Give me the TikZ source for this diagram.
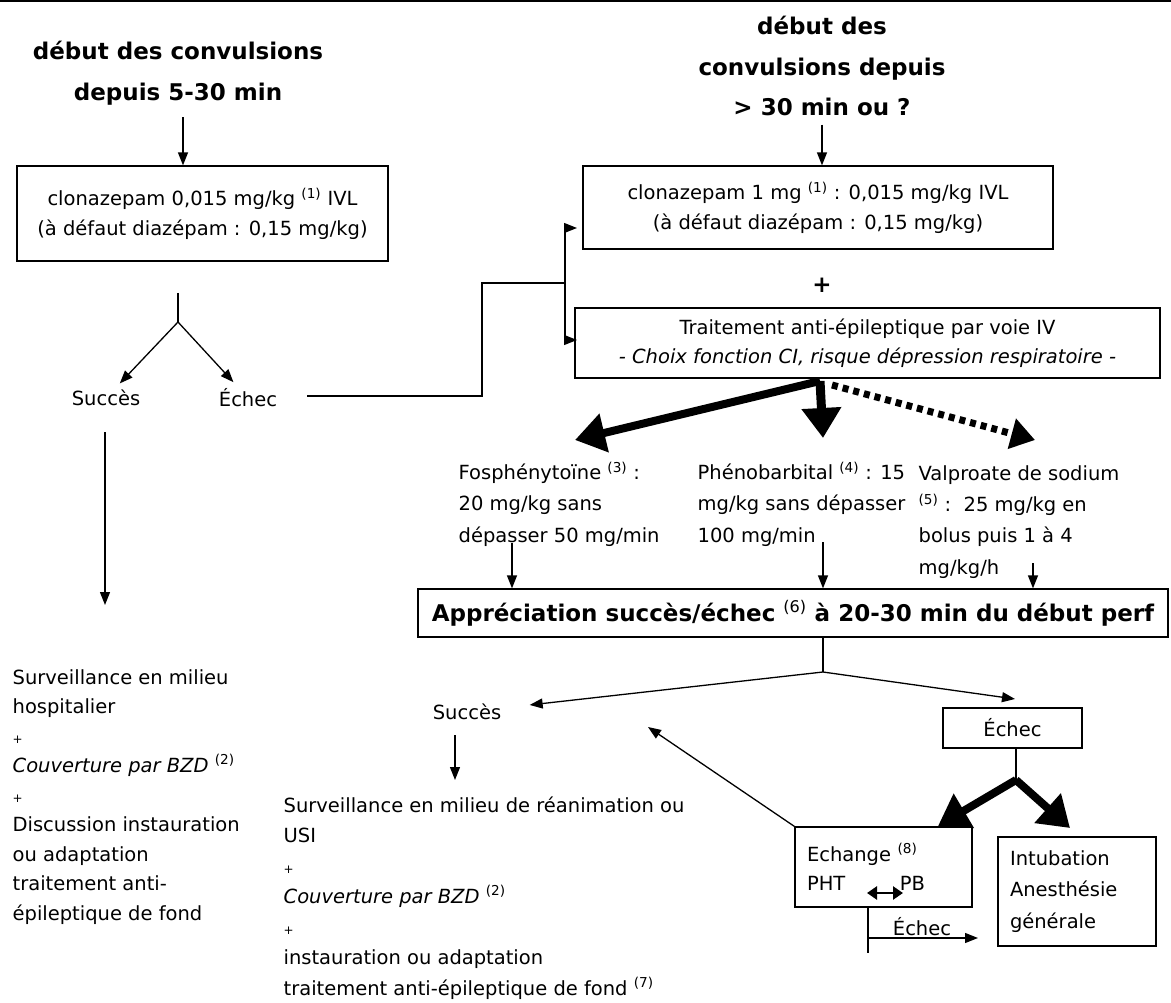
\documentclass[tikz,border=0pt]{standalone}
\usepackage{fontspec}
\setmainfont{DejaVu Sans}
\usetikzlibrary{arrows.meta}

\newcommand\bodyfont{\fontsize{19.5}{29.5}\selectfont}
\newcommand\widefont{\fontsize{19.5}{30.5}\selectfont}
\newcommand\drugfont{\fontsize{19.5}{31.2}\selectfont}
\newcommand\headfont{\fontsize{23}{40.5}\selectfont\bfseries}
\newcommand\plusfont{\fontsize{12}{29.5}\selectfont}

\begin{document}
\begin{tikzpicture}[x=1pt,y=-1pt,>={Triangle[length=13pt,width=10pt]},line width=1.3pt,
  box node/.style={draw,line width=1.2pt,inner sep=0pt,align=center,font=\bodyfont},
  txt node/.style={inner sep=0pt,align=left,anchor=base west,font=\bodyfont},
  lbl node/.style={inner sep=6pt,font=\bodyfont},
  title node/.style={align=center,inner sep=0pt,font=\headfont},
  fat arrow/.style={line width=8pt,-{Triangle[length=30pt,width=38pt]}}]
  \useasboundingbox (0,0) rectangle (1171,1003);
  \draw[line width=1.5pt] (0,1) -- (1171,1);

  % left branch: 5-30 min
  \node[title node] (t1) at (178,73) {début des convulsions\\depuis 5-30 min};
  \node[box node, minimum width=371pt, minimum height=95pt] (b1) at (202.5,213.5)
    {clonazepam 0,015 mg/kg \textsuperscript{(1)} IVL\\(à défaut diazépam : 0,15 mg/kg)};
  \node[lbl node] (s1) at (106,398) {Succès};
  \node[lbl node] (e1) at (248,398) {Échec};
  \coordinate (f0) at (178,293);
  \coordinate (f1) at (178,322);
  \coordinate (l0) at (105,432);
  \coordinate (l1) at (105,605);
  % base = last line
  \node[txt node] (r1) at (12,920) {Surveillance en milieu\\hospitalier\\{\plusfont +}\\%
    \textit{Couverture par BZD} \textsuperscript{(2)}\\{\plusfont +}\\Discussion instauration\\%
    ou adaptation\\traitement anti-\\épileptique de fond};

  % right branch: > 30 min
  \node[title node] (t2) at (822,66) {début des\\convulsions depuis\\> 30 min ou ?};
  \node[box node, minimum width=470pt, minimum height=83pt] (b2) at (818,207.5)
    {clonazepam 1 mg \textsuperscript{(1)} : 0,015 mg/kg IVL\\(à défaut diazépam : 0,15 mg/kg)};
  \node[title node] (pl) at (822,285) {+};
  \node[box node, minimum width=585pt, minimum height=70pt] (b3) at (867.5,343)
    {Traitement anti-épileptique par voie IV\\\textit{- Choix fonction CI, risque dépression respiratoire -}};
  \coordinate (j0) at (307,396);
  \coordinate (j1) at (482,283);
  \coordinate (j2) at (565,283);
  \coordinate (k1) at (577,228);
  \coordinate (k2) at (577,340);

  % three drugs
  \coordinate (g0) at (820,381);
  \coordinate (g1) at (575,440);
  \coordinate (g2) at (823,438);
  \coordinate (g3) at (1035,440);
  \node[txt node, font=\drugfont] (d1) at (458,542) {Fosphénytoïne \textsuperscript{(3)} :\\20 mg/kg sans\\dépasser 50 mg/min};
  \node[txt node, font=\drugfont] (d2) at (697,542) {Phénobarbital \textsuperscript{(4)} : 15\\mg/kg sans dépasser\\100 mg/min};
  \node[txt node, font=\drugfont] (d3) at (918,574) {Valproate de sodium\\\textsuperscript{(5)} :\ \ 25 mg/kg en\\bolus puis 1 à 4\\mg/kg/h};
  \coordinate (a1) at (512,543);
  \coordinate (a2) at (823,542);
  \coordinate (a3) at (1033,563);
  \node[box node, font=\headfont, minimum width=750pt, minimum height=48pt] (b4) at (793,613)
    {Appréciation succès/échec \textsuperscript{\mdseries(6)} à 20-30 min du début perf};

  % evaluation
  \coordinate (f2) at (823,672);
  \node[lbl node] (s2) at (467,712) {Succès};
  \node[box node, minimum width=139pt, minimum height=40pt] (ec) at (1012.5,728) {Échec};
  \coordinate (m0) at (455,735);
  \coordinate (m1) at (455,780);
  \node[txt node, font=\widefont] (r2) at (283,995) {Surveillance en milieu de réanimation ou\\USI\\{\plusfont +}\\%
    \textit{Couverture par BZD} \textsuperscript{(2)}\\{\plusfont +}\\instauration ou adaptation\\%
    traitement anti-épileptique de fond \textsuperscript{(7)}};
  \coordinate (f3) at (1016,780);
  \coordinate (h1) at (938,826);
  \coordinate (h2) at (1070,828);
  \node[box node, minimum width=177pt, minimum height=80pt, align=left, text width=153pt] (ex) at (883.5,867)
    {Echange \textsuperscript{(8)}\\PHT\hspace{2.8em}PB};
  \node[box node, font=\drugfont, minimum width=158pt, minimum height=109pt, align=left, text width=134pt] (ib) at (1077,891.5)
    {Intubation\\Anesthésie\\générale};
  \coordinate (p1) at (867,893);
  \coordinate (p2) at (903,893);
  \coordinate (s2b) at (648,727);
  \coordinate (q1) at (868,953);
  \coordinate (q2) at (868,938);
  \coordinate (q3) at (978,938);
  \node[lbl node] (e3) at (922,927) {Échec};

  % connectors
  \draw[->] (t1.south) ++(5,12) -- (b1.north -| 183,0);
  \draw (f0) -- (f1);
  \draw[->] (f1) -- (s1);
  \draw[->] (f1) -- (e1);
  \draw[->] (l0) -- (l1);
  \draw (j0) -| (j1) -- (j2);
  \draw[->] (j2) |- (k1);
  \draw[->] (j2) |- (k2);
  \draw[->] (t2.south) ++(0,8) -- (b2.north -| t2.south);
  \draw[fat arrow] (g0) -- (g1);
  \draw[fat arrow, line width=9pt] (g0) -- (g2);
  \draw[fat arrow, line width=7pt, dash pattern=on 6pt off 5pt, -{Triangle[length=24pt,width=30pt]}] (832,385) -- (g3);
  \draw[->] (a1) -- (a1 |- b4.north);
  \draw[->] (a2) -- (a2 |- b4.north);
  \draw[->] (a3) -- (a3 |- b4.north);
  \draw (b4.south -| f2) -- (f2);
  \draw[->, shorten >=22pt] (f2) -- (s2);
  \draw[->] (f2) -- (1015,699);
  \draw[->] (m0) -- (m1);
  \draw (ec.south -| f3) -- (f3);
  \draw[fat arrow] (f3) -- (h1);
  \draw[fat arrow] (f3) -- (h2);
  \draw[->] (ex.north west) -- (s2b);
  \draw[{Triangle[length=10pt,width=13pt]}-{Triangle[length=10pt,width=13pt]}, line width=2.5pt] (p1) -- (p2);
  \draw (ex.south -| q1) -- (q1);
  \draw[->] (q2) -- (q3);
\end{tikzpicture}
\end{document}
